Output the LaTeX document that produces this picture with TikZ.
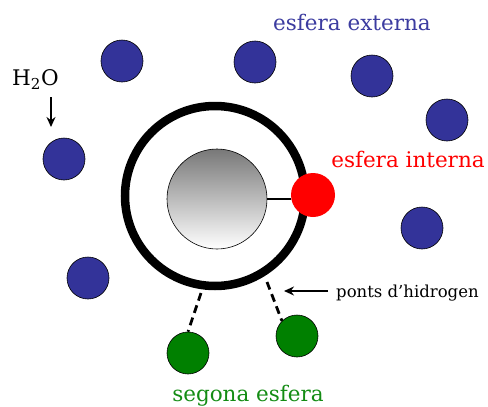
\documentclass[tikz,border=0pt]{standalone}
\usepackage{fontspec}
\setmainfont{DejaVu Serif}
\usetikzlibrary{arrows.meta}
\definecolor{molblue}{RGB}{51,51,153}
\definecolor{txtblue}{RGB}{60,60,160}
\definecolor{molgreen}{RGB}{0,128,0}
\definecolor{txtgreen}{RGB}{20,140,20}
\tikzset{
  water/.style={circle,draw=black,line width=0.6pt,fill=molblue,minimum size=42pt,inner sep=0pt},
  second/.style={circle,draw=black,line width=0.6pt,fill=molgreen,minimum size=42pt,inner sep=0pt},
  ion/.style={circle,draw=black,line width=0.6pt,top color={rgb,255:red,120;green,120;blue,120},bottom color=white,minimum size=100pt,inner sep=0pt},
  ligand/.style={circle,fill=red,minimum size=44pt,inner sep=0pt},
  shell/.style={circle,draw=black,line width=8.5pt,minimum size=180pt,inner sep=0pt},
  hbond/.style={line width=2.8pt,dash pattern=on 8pt off 5pt},
  lbl/.style={inner sep=0pt,font=\fontsize{21.5}{24}\selectfont},
}
\begin{document}
\begin{tikzpicture}[x=1pt,y=-1pt]
\useasboundingbox (0,0) rectangle (488,407);
\node[shell] (shell) at (215,196) {};
\node[ion] (ion) at (217,199) {};
\node[ligand] (lig) at (313,195) {};
\draw[line width=1.6pt] (ion.east) -- (lig.west |- ion.east);
\node[water] (w1) at (122,61) {};
\node[water] (w2) at (255,62) {};
\node[water] (w3) at (372,76) {};
\node[water] (w4) at (447,120) {};
\node[water] (w5) at (64,159) {};
\node[water] (w6) at (422,228) {};
\node[water] (w7) at (88,278) {};
\node[second] (g1) at (188,353) {};
\node[second] (g2) at (297,336) {};
\coordinate (b1) at (201,293);
\coordinate (b2) at (267,282);
\draw[hbond] (b1) -- (g1.north);
\draw[hbond] (b2) -- (g2.north west);
\node[lbl,text=txtblue] (ext) at (352,22) {esfera externa};
\node[lbl,text=red] (int) at (408,159) {esfera interna};
\node[lbl,text=txtgreen] (seg) at (248,396) {segona esfera};
\node[lbl,anchor=west] (h2o) at (12,80) {H\textsubscript{2}O};
\coordinate (h2oarr) at (51,127);
\draw[-{Stealth[length=10pt,width=9pt]},line width=1.5pt] (51,97) -- (h2oarr);
\node[inner sep=0pt,anchor=west,font=\fontsize{16.5}{19}\selectfont] (ponts) at (336,293) {ponts d’hidrogen};
\coordinate (parr) at (284,291);
\draw[-{Stealth[length=10pt,width=9pt]},line width=1.5pt] (ponts.west) ++(-8,-2) -- (parr);
\end{tikzpicture}
\end{document}
